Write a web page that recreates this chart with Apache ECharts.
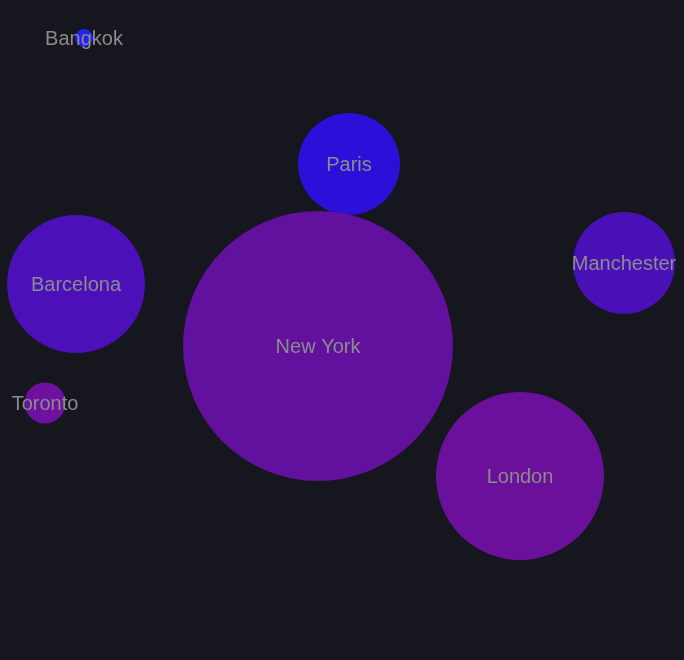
<!DOCTYPE html>
<html><head><meta charset="utf-8">
<script src="https://cdn.jsdelivr.net/npm/echarts@6/dist/echarts.min.js"></script>
<style>html,body{margin:0;padding:0;background:#15161e;}#c{width:684px;height:660px;}</style>
</head><body><div id="c"></div>
<script>
const cities = ['Bangkok','Paris','Barcelona','Manchester','Toronto','New York','London'];
const xs = [84, 349, 76, 624, 45, 318, 520];
const ys = [38, 164, 284, 263, 403, 346, 476];
const sizes = [18, 102, 138, 102, 41, 270, 168];
const colors = ['#2121f2','#2a10d8','#4c10b8','#4a10b8','#6e10a0','#62109e','#6a109a'];

const chart = echarts.init(document.getElementById('c'), null, {renderer:'canvas'});
chart.setOption({
  backgroundColor: '#15161e',
  animation: false,
  grid: {left:0, right:0, top:0, bottom:0},
  xAxis: {type:'value', min:0, max:684, show:false},
  yAxis: {type:'value', min:0, max:660, inverse:true, show:false},
  series: [{
    type: 'scatter',
    symbol: 'circle',
    data: cities.map((c,i)=>({name:c, value:[xs[i], ys[i], sizes[i]], itemStyle:{color:colors[i], opacity:1}})),
    symbolSize: v => v[2],
    label: {show:true, position:'inside', offset:[0,1], formatter: p => p.name, color:'#8c8c8c', fontSize:20, fontFamily:'Liberation Sans, Arial, sans-serif'},
    emphasis: {disabled:true}
  }]
});
</script></body></html>
